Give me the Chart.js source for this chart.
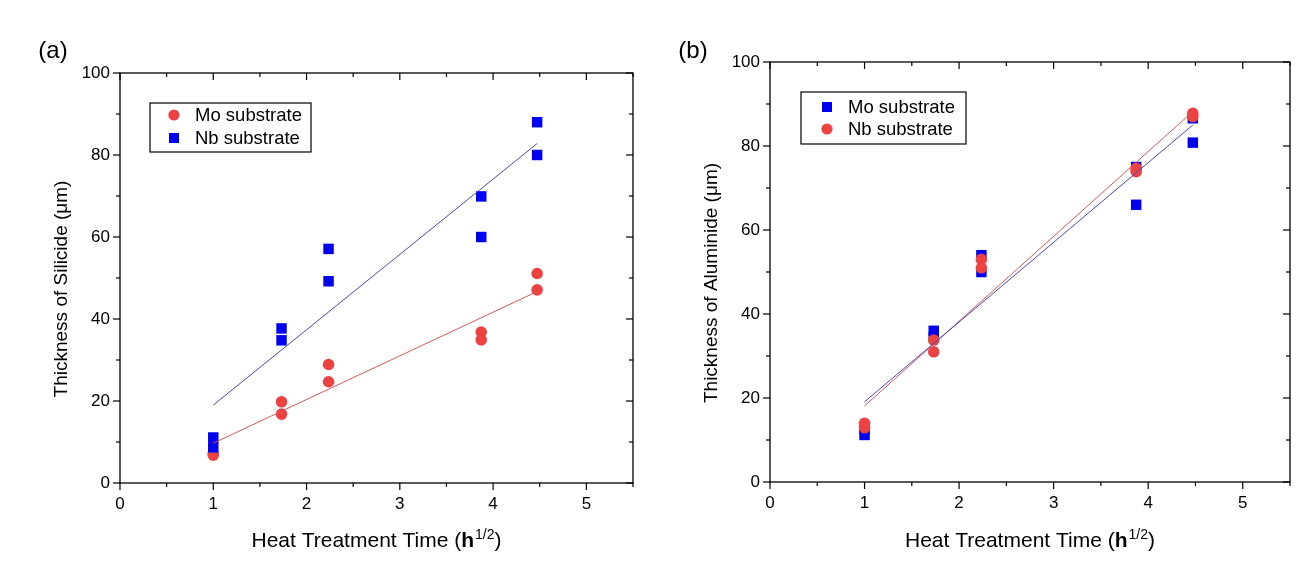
<!DOCTYPE html>
<html><head><meta charset="utf-8">
<script src="https://cdn.jsdelivr.net/npm/chart.js@4.4.0/dist/chart.umd.min.js"></script>
<style>
html,body{margin:0;padding:0;background:#fff;width:1316px;height:563px;overflow:hidden;}
.box{position:absolute;top:0;height:563px;}
canvas{display:block;}
</style></head><body>
<div class="box" style="left:0;width:650px"><canvas id="ca" width="650" height="563"></canvas></div>
<div class="box" style="left:650px;width:666px"><canvas id="cb" width="666" height="563"></canvas></div>
<script>
// ---------- data ----------
const timeRoot = [1, 1.732, 2.236, 3.873, 4.472];   // sqrt(h)
const fitX = [1, 4.472];
const xTickLabels = [0, 1, 2, 3, 4, 5];
const yTickLabels = [0, 20, 40, 60, 80, 100];

// (a) silicide thickness (um)
const silMoHigh = [7.2, 19.8, 28.9, 36.8, 51.1];
const silMoLow  = [6.8, 16.8, 24.7, 34.9, 47.1];
const silNbHigh = [11.1, 37.7, 57.1, 69.9, 88.0];
const silNbLow  = [8.7, 34.8, 49.2, 60.0, 80.0];
const silMoFit  = [9.7, 46.7];
const silNbFit  = [19.0, 82.8];

// (b) aluminide thickness (um)
const aluMoHigh = [12.5, 36.0, 54.0, 75.0, 86.6];
const aluMoLow  = [11.2, 34.5, 50.0, 66.0, 80.8];
const aluNbHigh = [14.0, 33.8, 53.0, 74.7, 87.8];
const aluNbLow  = [12.9, 31.0, 51.0, 73.9, 87.0];
const aluMoFit  = [19.1, 85.0];
const aluNbFit  = [18.1, 88.2];

const RED = '#ec4242', BLUE = '#0000f0';
const RED_LINE = '#d85858', BLUE_LINE = '#4848c4';
const FONT = '"Liberation Sans", Arial, sans-serif';
Chart.defaults.font.family = FONT;
Chart.defaults.color = '#000';

function pts(xs, ys) { return xs.map((x, i) => ({ x: x, y: ys[i] })); }
function both(a, b) { return pts(timeRoot, a).concat(pts(timeRoot, b)); }

function circleSet(label, data, ord) {
  return { label, data, pointStyle: 'circle', pointRadius: 5.8, pointHoverRadius: 5.8,
    backgroundColor: RED, borderColor: RED, borderWidth: 0, showLine: false, order: ord };
}
function squareSet(label, data, ord) {
  return { label, data, pointStyle: 'rect', pointRadius: 7.4, pointHoverRadius: 7.4,
    backgroundColor: BLUE, borderColor: BLUE, borderWidth: 0, showLine: false, order: ord };
}
function fitSet(label, ys, color, ord) {
  return { label, data: pts(fitX, ys), showLine: true, pointRadius: 0, borderColor: color,
    borderWidth: 1, fill: false, order: ord };
}

function decoPlugin(cfg) {
  return {
    id: 'deco',
    afterDraw(chart) {
      const ctx = chart.ctx, a = chart.chartArea, xs = chart.scales.x, ys = chart.scales.y;
      ctx.save();
      ctx.strokeStyle = '#000';
      ctx.lineWidth = 1.3;
      ctx.strokeRect(a.left, a.top, a.right - a.left, a.bottom - a.top);
      ctx.lineWidth = 1.2;
      const seg = (x1, y1, x2, y2) => { ctx.beginPath(); ctx.moveTo(x1, y1); ctx.lineTo(x2, y2); ctx.stroke(); };
      for (let v = 0; v <= 5.5 + 1e-9; v += 0.5) {
        const px = xs.getPixelForValue(v);
        const major = Math.abs(v - Math.round(v)) < 1e-6;
        const L = major ? 7 : 4;
        seg(px, a.top, px, a.top + L);
        seg(px, a.bottom, px, a.bottom + L);
      }
      for (let v = 0; v <= 100 + 1e-9; v += 10) {
        const py = ys.getPixelForValue(v);
        const major = (v % 20) === 0;
        const L = major ? 7 : 4;
        seg(a.left - L, py, a.left, py);
        seg(a.right - L, py, a.right, py);
      }
      // panel label
      ctx.fillStyle = '#000';
      ctx.font = '24px ' + FONT;
      ctx.textAlign = 'center';
      ctx.textBaseline = 'middle';
      ctx.fillText(cfg.panel, cfg.panelX, 51);
      // y title
      ctx.save();
      ctx.translate(cfg.yTitleX, (a.top + a.bottom) / 2 + 11);
      ctx.rotate(-Math.PI / 2);
      ctx.font = '19px ' + FONT;
      ctx.fillText(cfg.yTitle, 0, 0);
      ctx.restore();
      // x title with superscript
      const p1 = 'Heat Treatment Time (', p2 = 'h', p3 = '1/2', p4 = ')';
      const fN = '21px ' + FONT, fB = 'bold 21px ' + FONT, fS = '14px ' + FONT;
      ctx.font = fN; const w1 = ctx.measureText(p1).width, w4 = ctx.measureText(p4).width;
      ctx.font = fB; const w2 = ctx.measureText(p2).width;
      ctx.font = fS; const w3 = ctx.measureText(p3).width;
      let x0 = (a.left + a.right) / 2 - (w1 + w2 + w3 + 1 + w4) / 2;
      const base = 547;
      ctx.textAlign = 'left'; ctx.textBaseline = 'alphabetic';
      ctx.font = fN; ctx.fillText(p1, x0, base); x0 += w1;
      ctx.font = fB; ctx.fillText(p2, x0, base); x0 += w2 + 1;
      ctx.font = fS; ctx.fillText(p3, x0, base - 8); x0 += w3;
      ctx.font = fN; ctx.fillText(p4, x0, base);
      // legend
      const L = cfg.legend;
      ctx.lineWidth = 1.2;
      ctx.strokeRect(L.x1, L.y1, L.x2 - L.x1, L.y2 - L.y1);
      ctx.font = '18.5px ' + FONT;
      ctx.textBaseline = 'middle';
      L.items.forEach(it => {
        ctx.fillStyle = it.color;
        if (it.shape === 'circle') { ctx.beginPath(); ctx.arc(L.mx, it.y, 5.6, 0, Math.PI * 2); ctx.fill(); }
        else { ctx.fillRect(L.mx - 5, it.y - 5, 10, 10); }
        ctx.fillStyle = '#000';
        ctx.fillText(it.text, L.tx, it.y + 1);
      });
      ctx.restore();
    }
  };
}

function makeChart(id, datasets, pad, xH, deco) {
  return new Chart(document.getElementById(id), {
    type: 'scatter',
    data: { datasets },
    plugins: [decoPlugin(deco)],
    options: {
      responsive: false, animation: false,
      layout: { padding: pad },
      plugins: { legend: { display: false }, tooltip: { enabled: false } },
      scales: {
        x: { type: 'linear', min: 0, max: 5.5,
          grid: { display: false, drawTicks: true, tickLength: 7 }, border: { display: false },
          ticks: { stepSize: 1, includeBounds: false, padding: 4, font: { size: 17 }, color: '#000',
            callback: v => xTickLabels.includes(v) ? String(v) : '' },
          afterFit: s => { s.height = xH; } },
        y: { type: 'linear', min: 0, max: 100,
          grid: { display: false, drawTicks: true, tickLength: 7 }, border: { display: false },
          ticks: { stepSize: 20, padding: 3, font: { size: 17 }, color: '#000',
            callback: v => yTickLabels.includes(v) ? String(v) : '' },
          afterFit: s => { s.width = 120; } }
      }
    }
  });
}

makeChart('ca', [
  circleSet('Mo substrate', both(silMoHigh, silMoLow), 2),
  squareSet('Nb substrate', both(silNbHigh, silNbLow), 1),
  fitSet('Mo fit', silMoFit, RED_LINE, 0),
  fitSet('Nb fit', silNbFit, BLUE_LINE, 0)
], { left: 0, right: 17, top: 73, bottom: 0 }, 80, {
  panel: '(a)', panelX: 53, yTitleX: 62, yTitle: 'Thickness of Silicide (\u03bcm)',
  legend: { x1: 150, y1: 103, x2: 311, y2: 152, mx: 174, tx: 195,
    items: [ { shape: 'circle', color: RED, text: 'Mo substrate', y: 115 },
             { shape: 'rect', color: BLUE, text: 'Nb substrate', y: 138 } ] }
});

makeChart('cb', [
  squareSet('Mo substrate', both(aluMoHigh, aluMoLow), 2),
  circleSet('Nb substrate', both(aluNbHigh, aluNbLow), 1),
  fitSet('Mo fit', aluMoFit, BLUE_LINE, 0),
  fitSet('Nb fit', aluNbFit, RED_LINE, 0)
], { left: 0, right: 26, top: 62, bottom: 0 }, 81, {
  panel: '(b)', panelX: 43, yTitleX: 62, yTitle: 'Thickness of Aluminide (\u03bcm)',
  legend: { x1: 151, y1: 92, x2: 316, y2: 144, mx: 177, tx: 198,
    items: [ { shape: 'rect', color: BLUE, text: 'Mo substrate', y: 107 },
             { shape: 'circle', color: RED, text: 'Nb substrate', y: 129 } ] }
});
</script>
</body></html>
